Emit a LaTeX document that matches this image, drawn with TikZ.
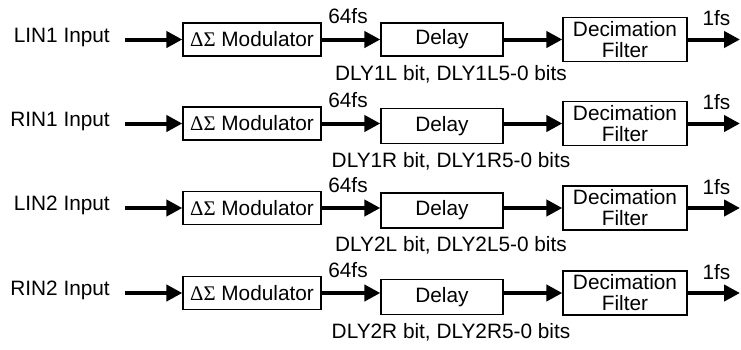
\documentclass[tikz,border=0pt]{standalone}
\usepackage{fontspec}
\setmainfont{Liberation Sans}
\newfontfamily\grkfont{Liberation Serif}
\usetikzlibrary{arrows.meta}

\tikzset{
	blk/.style={draw,line width=1.3pt,inner sep=0pt,align=center,font=\fontsize{20.8}{21}\selectfont},
	lbl/.style={inner sep=0pt,font=\fontsize{20.8}{21}\selectfont},
	sig/.style={line width=4pt,-{Triangle[length=16pt,width=16pt]}}
}

\begin{document}
\begin{tikzpicture}[x=1pt,y=-1pt]
	\useasboundingbox (0,0) rectangle (741,349);
	% row y / channel / delay bits / delay box drop / delay box height
	\foreach \y/\ch/\dl/\dd/\dh in {39.5/LIN1/1L/0/33, 123.5/RIN1/1R/2.5/35, 208/LIN2/2L/2.5/35, 293/RIN2/2R/4/35} {
		\node[lbl,anchor=mid east] (in\ch) at (110,\y) {\ch\ Input};
		\coordinate (src\ch) at (125,\y);
		\node[blk,minimum width=138pt,minimum height=33pt] (mod\ch) at (252,\y) {{\grkfont ΔΣ} Modulator};
		\node[blk,minimum width=122pt,minimum height=\dh pt] (del\ch) at (442,\y+\dd) {Delay};
		\node[blk,minimum width=124pt,minimum height=44pt] (dec\ch) at (625,\y) {Decimation\\Filter};
		\coordinate (out\ch) at (740,\y);
		\draw[sig] (src\ch) -- (mod\ch);
		\draw[sig] (mod\ch) -- (mod\ch -| del\ch.west);
		\draw[sig] (del\ch.east |- mod\ch) -- (dec\ch);
		\draw[sig] (dec\ch) -- (out\ch);
		\node[lbl] (fs\ch) at (348,\y-23) {64fs};
		\node[lbl] (fo\ch) at (716.5,\y-21) {1fs};
		\node[lbl] (dly\ch) at (451,\y+35+\dd) {DLY\dl\ bit, DLY\dl5-0 bits};
	}
\end{tikzpicture}
\end{document}
